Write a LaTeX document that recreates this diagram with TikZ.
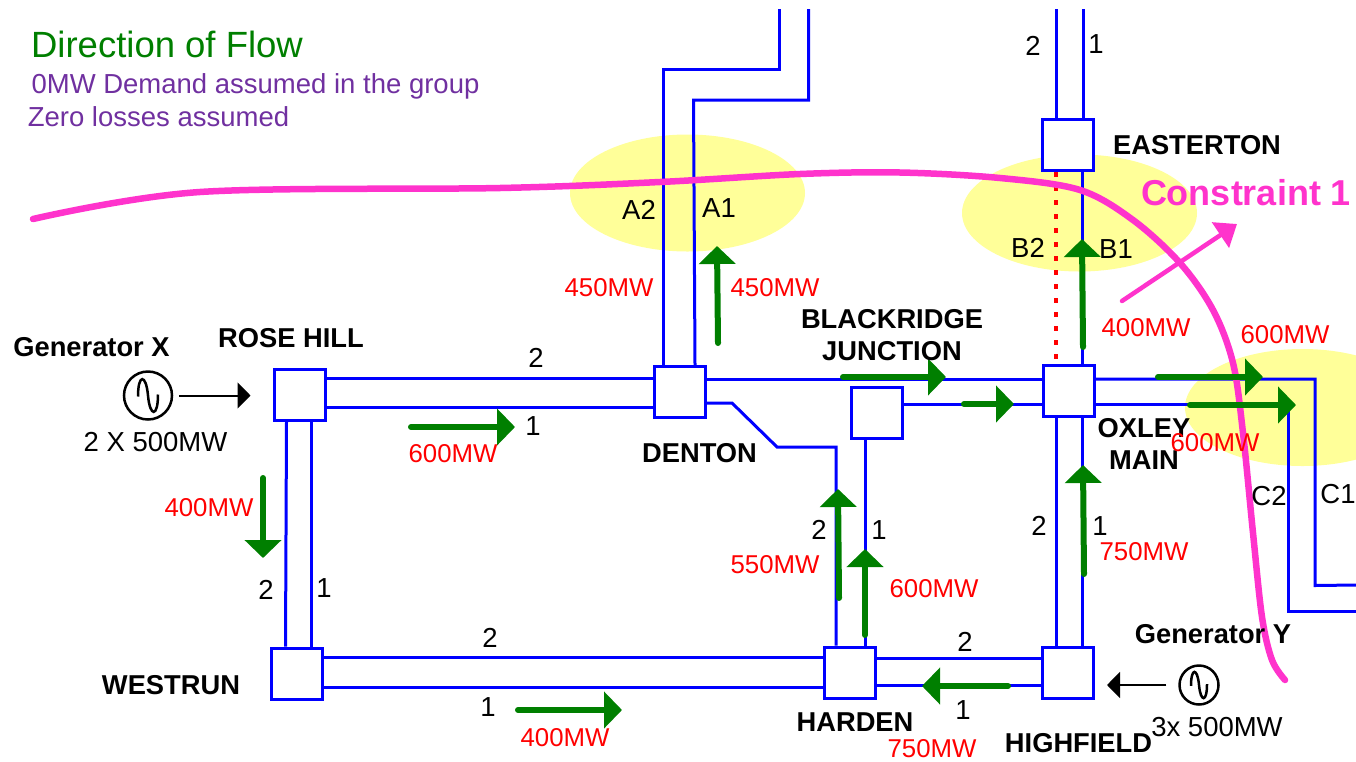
\documentclass[tikz,border=0pt]{standalone}
\usepackage{fontspec}
\setmainfont{Liberation Sans}
\usetikzlibrary{arrows.meta, positioning, calc, shapes.geometric}

\definecolor{linkblue}{HTML}{0000FF}
\definecolor{flowgreen}{HTML}{007F00}
\definecolor{cutpink}{HTML}{FF33CC}
\definecolor{zoneyellow}{HTML}{FFFF99}
\definecolor{notepurple}{HTML}{7030A0}

\newcommand{\sinewave}[2]{\draw[wave, shift={(#1)}, scale=#2] (-10,1) .. controls (-10,-22) and (-2,-22) .. (0,0) .. controls (2,22) and (10,22) .. (10,-1);}

\begin{document}
\begin{tikzpicture}[
    x=1pt, y=-1pt,
    bus/.style={rectangle, draw=linkblue, fill=white, line width=3pt, minimum size=51pt, inner sep=0pt},
    link/.style={draw=linkblue, line width=3pt},
    flow/.style={-{Triangle[length=18pt, width=36pt]}, flowgreen, line width=6pt, line cap=round},
    feed/.style={-{Triangle[length=13pt, width=26pt]}, black, line width=2pt},
    zone/.style={ellipse, fill=zoneyellow, minimum width=235pt, minimum height=117pt, inner sep=0pt},
    gensym/.style={circle, draw=black, line width=2.5pt, inner sep=0pt},
    wave/.style={black, line width=2.5pt},
    stn/.style={font=\fontsize{27.3}{32}\selectfont\bfseries, text=black, align=center, inner sep=0pt},
    mw/.style={font=\fontsize{25.8}{30}\selectfont, text=red, inner sep=0pt},
    num/.style={font=\fontsize{27.5}{30}\selectfont, text=black, inner sep=0pt}
]
    \clip (0,0) rectangle (1356,761);

    % highlighted cut zones
    \node[zone] (zonea) at (687.5,193) {};
    \node[zone] (zoneb) at (1079.5,213) {};
    \node[zone] (zonec) at (1302.5,407.5) {};

    % substations
    \node[bus] (rose) at (299.5,394.5) {};
    \node[bus] (westrun) at (296.5,673.5) {};
    \node[bus] (denton) at (680,392) {};
    \node[bus] (blackridge) at (876.5,413) {};
    \node[bus] (oxley) at (1069,391) {};
    \node[bus] (harden) at (850,672.5) {};
    \node[bus] (highfield) at (1068,673) {};
    \node[bus] (easterton) at (1068,145) {};

    % free ends of the circuits
    \coordinate (eastopl) at (1056,9);
    \coordinate (eastopr) at (1083,9);
    \coordinate (dentopl) at (779,9);
    \coordinate (dentopr) at (808.5,9);
    \coordinate (exitcone) at (1356,585);
    \coordinate (exitctwo) at (1356,611);

    % circuits
    \draw[link] ([yshift=16.5]rose.east) -- ([yshift=14]denton.west);
    \draw[link] ([yshift=-12.5]rose.east) -- ([yshift=-15]denton.west);
    \draw[link] ([xshift=-13]rose.south) -- ([xshift=-11]westrun.north);
    \draw[link] ([xshift=11.5]rose.south) -- ([xshift=14.5]westrun.north);
    \draw[link] ([yshift=16.5]westrun.east) -- ([yshift=15.5]harden.west);
    \draw[link] ([yshift=-14]westrun.east) -- ([yshift=-15]harden.west);
    \draw[link] ([yshift=13]denton.east) -- ([yshift=12]oxley.west);
    \draw[link] ([yshift=-11]denton.east) -- (732,403) -- (777,447) -- (836,447) -- ([xshift=-14]harden.north);
    \draw[link] ([yshift=9]blackridge.east) -- ([yshift=-13]oxley.west);
    \draw[link] ([xshift=-11.5]blackridge.south) -- ([xshift=15]harden.north);
    \draw[link] ([yshift=14.5]harden.east) -- ([yshift=15]highfield.west);
    \draw[link] ([yshift=-12.5]harden.east) -- ([yshift=-12]highfield.west);
    \draw[link] ([xshift=-13]oxley.south) -- ([xshift=-12]highfield.north);
    \draw[link] ([xshift=13]oxley.south) -- ([xshift=14]highfield.north);
    \draw[link] ([xshift=14]easterton.south) -- ([xshift=13]oxley.north);
    \draw[red, line width=4pt, dash pattern=on 4.5pt off 9.5pt] ([xshift=-12]easterton.south) -- ([xshift=-13]oxley.north);
    \draw[link] (eastopl) -- ([xshift=-12]easterton.north);
    \draw[link] (eastopr) -- ([xshift=15]easterton.north);
    \draw[link] (dentopl) -- (779,69) -- (663,69) -- ([xshift=-17]denton.north);
    \draw[link] (dentopr) -- (808.5,100) -- (693.5,100) -- ([xshift=15]denton.north);
    \draw[link] ([yshift=12]oxley.east) -- (1315,379) -- (1315,585.5) -- (exitcone);
    \draw[link] ([yshift=-13]oxley.east) -- (1288,404) -- (1288,611) -- (exitctwo);

    % constraint line
    \draw[cutpink, line width=6.5pt, line cap=round] plot[smooth, tension=0.55] coordinates {(33,219) (200,192) (500,188) (660,182) (800,174) (900,172.5) (1000,178) (1080,190) (1133,220) (1180,263) (1213,310) (1233,363) (1243,433) (1253,533) (1262,617) (1272,660) (1285,680)};
    \coordinate (cutarrows) at (1122,301);
    \coordinate (cutarrowe) at (1237,224);
    \draw[cutpink, line width=4.5pt, line cap=round, -{Triangle[length=20pt, width=30pt]}] (cutarrows) -- (cutarrowe);

    % flows
    \coordinate (fl1s) at (411,427); \coordinate (fl1e) at (515,427);
    \coordinate (fl2s) at (263,478); \coordinate (fl2e) at (263,558);
    \coordinate (fl3s) at (718,343); \coordinate (fl3e) at (717,246);
    \coordinate (fl4s) at (1083,347); \coordinate (fl4e) at (1082,239);
    \coordinate (fl5s) at (843,377); \coordinate (fl5e) at (946,377);
    \coordinate (fl6s) at (964,404); \coordinate (fl6e) at (1014,404);
    \coordinate (fl7s) at (1158,377); \coordinate (fl7e) at (1263,377);
    \coordinate (fl8s) at (1190,405); \coordinate (fl8e) at (1296,405);
    \coordinate (fl9s) at (1084,574); \coordinate (fl9e) at (1083,465);
    \coordinate (fl10s) at (839,598); \coordinate (fl10e) at (838,489);
    \coordinate (fl11s) at (865,635); \coordinate (fl11e) at (865,549);
    \coordinate (fl12s) at (1008,686); \coordinate (fl12e) at (922,686);
    \coordinate (fl13s) at (518,710); \coordinate (fl13e) at (622,710);
    \draw[flow] (fl1s) -- (fl1e);
    \draw[flow] (fl2s) -- (fl2e);
    \draw[flow] (fl3s) -- (fl3e);
    \draw[flow] (fl4s) -- (fl4e);
    \draw[flow] (fl5s) -- (fl5e);
    \draw[flow] (fl6s) -- (fl6e);
    \draw[flow] (fl7s) -- (fl7e);
    \draw[flow] (fl8s) -- (fl8e);
    \draw[flow] (fl9s) -- (fl9e);
    \draw[flow] (fl10s) -- (fl10e);
    \draw[flow] (fl11s) -- (fl11e);
    \draw[flow] (fl12s) -- (fl12e);
    \draw[flow] (fl13s) -- (fl13e);

    % generators
    \node[gensym, minimum size=48pt] (genx) at (148,395.5) {};
    \sinewave{genx.center}{1}
    \draw[feed, shorten <=6pt, shorten >=22pt] (genx.east) -- (genx.east -| rose.west);
    \node[gensym, minimum size=39pt] (geny) at (1199,685) {};
    \sinewave{geny.center}{0.8}
    \draw[feed, shorten <=12pt, shorten >=12pt] (geny.west) -- (geny.west -| highfield.east);

    % notes
    \node[font=\fontsize{36.5}{42}\selectfont, text=flowgreen, inner sep=0pt] (title) at (167,44) {Direction of Flow};
    \node[font=\fontsize{27.5}{30}\selectfont, text=notepurple, inner sep=0pt] (demand) at (255.5,86) {0MW Demand assumed in the group};
    \node[font=\fontsize{27.5}{30}\selectfont, text=notepurple, inner sep=0pt] (losses) at (158.5,117) {Zero losses assumed};
    \node[font=\fontsize{36}{40}\selectfont\bfseries, text=cutpink, inner sep=0pt] (cutname) at (1246,193) {Constraint 1};

    % names
    \node[stn] at (91.5,347) {Generator X};
    \node[num] at (155.5,442) {2 X 500MW};
    \node[stn] at (291,338) {ROSE HILL};
    \node[stn] at (171,685) {WESTRUN};
    \node[stn] at (699.5,453) {DENTON};
    \node[stn] at (892,335) {BLACKRIDGE\\JUNCTION};
    \node[stn] at (1197,145) {EASTERTON};
    \node[stn] at (1144,444) {OXLEY\\MAIN};
    \node[stn] at (855,722) {HARDEN};
    \node[stn] at (1078.5,743) {HIGHFIELD};
    \node[stn] at (1213,634) {Generator Y};
    \node[num] at (1217,727) {3x 500MW};

    % circuit numbers
    \node[num] at (536,358) {2};
    \node[num] at (533,426) {1};
    \node[num] at (266,590) {2};
    \node[num] at (324,588) {1};
    \node[num] at (490,638) {2};
    \node[num] at (488,707) {1};
    \node[num] at (819,530) {2};
    \node[num] at (879,530) {1};
    \node[num] at (1039,526) {2};
    \node[num] at (1100,526) {1};
    \node[num] at (965,642) {2};
    \node[num] at (963,710) {1};
    \node[num] at (1033,46) {2};
    \node[num] at (1096,44) {1};
    \node[num] at (639,210) {A2};
    \node[num] at (719,208) {A1};
    \node[num] at (1028,248) {B2};
    \node[num] at (1116,249) {B1};
    \node[num] at (1269,496) {C2};
    \node[num] at (1338,494) {C1};

    % flow values
    \node[mw] at (453,454) {600MW};
    \node[mw] at (209,508) {400MW};
    \node[mw] at (609,288) {450MW};
    \node[mw] at (775,288) {450MW};
    \node[mw] at (1146,328) {400MW};
    \node[mw] at (1285,335) {600MW};
    \node[mw] at (1215,443) {600MW};
    \node[mw] at (1144,552) {750MW};
    \node[mw] at (775,565) {550MW};
    \node[mw] at (934,589) {600MW};
    \node[mw] at (932,749) {750MW};
    \node[mw] at (565,738) {400MW};
\end{tikzpicture}
\end{document}
